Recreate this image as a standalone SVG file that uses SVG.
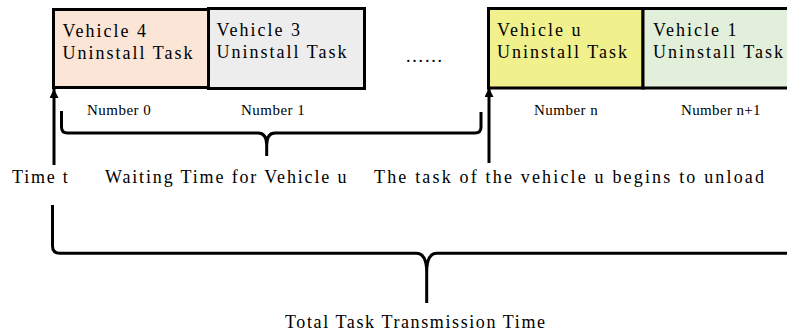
<svg xmlns="http://www.w3.org/2000/svg" width="787" height="336" viewBox="0 0 787 336">
<defs>
<style>
.box{stroke:#000;stroke-width:3}
.t{font-family:"Liberation Serif","Times New Roman",serif;font-size:18px;fill:#000}
.n{font-family:"Liberation Serif","Times New Roman",serif;font-size:15px;fill:#000}
.br{fill:none;stroke:#000;stroke-width:3;stroke-linejoin:round}
.ar{fill:none;stroke:#000;stroke-width:3}
</style>
<marker id="ah" viewBox="0 0 10 10" refX="10" refY="5" markerWidth="3" markerHeight="3" markerUnits="strokeWidth" orient="auto">
<path d="M0,0 L10,5 L0,10 z" fill="#000"/>
</marker>
</defs>
<rect width="787" height="336" fill="#fff"/>
<g id="node-vehicle4">
<rect class="box" x="53.5" y="9.5" width="155" height="78" fill="#fbe5d6"/>
<text class="t" x="62.5" y="37" textLength="83.6" lengthAdjust="spacing">Vehicle 4</text>
<text class="t" x="62.5" y="59" textLength="130" lengthAdjust="spacing">Uninstall Task</text>
<text class="n" x="87" y="115" textLength="63.7" lengthAdjust="spacing">Number 0</text>
</g>
<g id="node-vehicle3">
<rect class="box" x="208.5" y="8.5" width="156" height="80" fill="#ededed"/>
<text class="t" x="216.5" y="36" textLength="83.6" lengthAdjust="spacing">Vehicle 3</text>
<text class="t" x="216.5" y="58" textLength="130" lengthAdjust="spacing">Uninstall Task</text>
<text class="n" x="241" y="115" textLength="63.7" lengthAdjust="spacing">Number 1</text>
</g>
<g id="node-ellipsis">
<text class="t" x="406" y="62" textLength="36" lengthAdjust="spacing">......</text>
</g>
<g id="node-vehicleu">
<rect class="box" x="488.5" y="8.5" width="154.5" height="79.5" fill="#f0f08c"/>
<text class="t" x="497" y="36" textLength="83.6" lengthAdjust="spacing">Vehicle u</text>
<text class="t" x="497" y="58" textLength="130" lengthAdjust="spacing">Uninstall Task</text>
<text class="n" x="534" y="115" textLength="63.7" lengthAdjust="spacing">Number n</text>
</g>
<g id="node-vehicle1">
<rect class="box" x="643" y="8.5" width="150" height="79.5" fill="#e2efda"/>
<text class="t" x="653" y="36" textLength="83.6" lengthAdjust="spacing">Vehicle 1</text>
<text class="t" x="653" y="58" textLength="130" lengthAdjust="spacing">Uninstall Task</text>
<text class="n" x="681" y="115" textLength="79.6" lengthAdjust="spacing">Number n+1</text>
</g>
<g id="labels">
<text class="t" x="12" y="183" textLength="55.7" lengthAdjust="spacing">Time t</text>
<text class="t" x="105" y="183" textLength="241.5" lengthAdjust="spacing">Waiting Time for Vehicle u</text>
<text class="t" x="374" y="183" textLength="390" lengthAdjust="spacing">The task of the vehicle u begins to unload</text>
<text class="t" x="285" y="328" textLength="260" lengthAdjust="spacing">Total Task Transmission Time</text>
</g>
<g id="connectors">
<line class="ar" x1="54" y1="165" x2="54" y2="89" marker-end="url(#ah)"/>
<line class="ar" x1="489" y1="163" x2="489" y2="88" marker-end="url(#ah)"/>
<path class="br" d="M61.5,111 V127 Q61.5,133 67.5,133 H258 Q266.7,133 266.7,145 V156 M266.7,145 Q266.7,133 275,133 H475 Q481,133 481,127 V112"/>
<path class="br" d="M52.5,205 V246 Q52.5,253.3 60,253.3 H416 Q426.7,253.3 426.7,272 V303 M426.7,272 Q426.7,253.3 437,253.3 H790"/>
</g>
</svg>
